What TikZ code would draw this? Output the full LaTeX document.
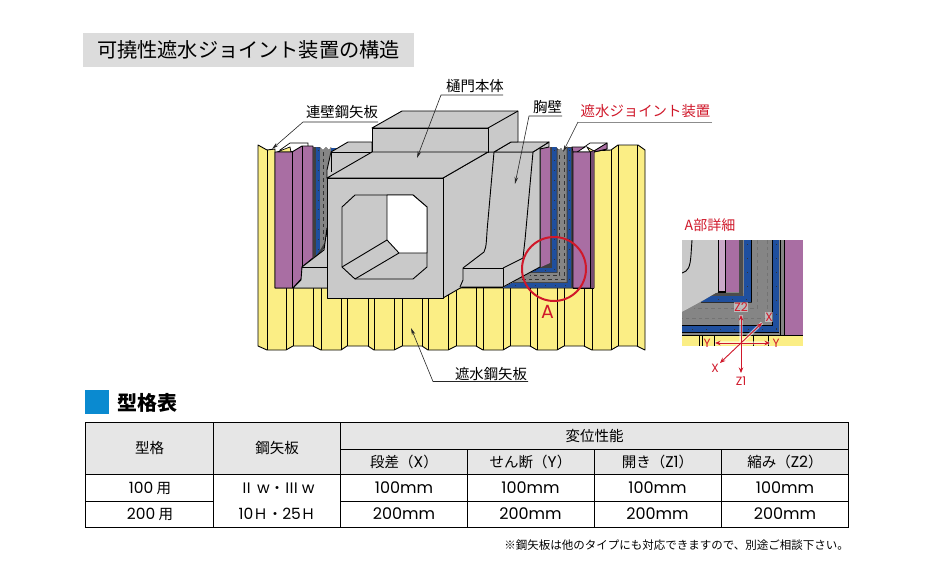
\documentclass[tikz,border=0pt]{standalone}
\usepackage{fontspec}
\setmainfont{Noto Sans CJK JP}
\newfontfamily\lat{Poppins}
\usetikzlibrary{arrows.meta}
\definecolor{yel}{HTML}{FBEE85}
\definecolor{pur}{HTML}{A96EA3}
\definecolor{blu}{HTML}{1F4F9E}
\definecolor{lgr}{HTML}{C9C9C9}
\definecolor{mgr}{HTML}{858585}
\definecolor{dgr}{HTML}{404040}
\definecolor{redc}{HTML}{D0182A}
\definecolor{hdr}{HTML}{E6E6E6}
\definecolor{ttl}{HTML}{DCDCDC}
\definecolor{sq}{HTML}{0A8AD0}
\tikzset{
 ol/.style={draw=black,line width=0.9pt,line join=round},
 thin ol/.style={draw=black,line width=0.7pt},
 leader/.style={draw=black!85,line width=0.6pt,-{Stealth[length=7pt,width=3.5pt]}},
 txt/.style={inner sep=0pt,font=\fontsize{14.4}{16}\selectfont},
 rtxt/.style={txt,text=redc},
 cell/.style={inner sep=0pt,font=\fontsize{14.5}{16}\selectfont},
 num/.style={inner sep=0pt,font=\lat\fontsize{16}{17}\selectfont},
 grid/.style={draw=black,line width=1pt},
 dots/.style={draw=black!80,line width=0.9pt,dash pattern=on 0.9pt off 9pt},
 ddash/.style={draw=black!80,line width=0.5pt,dash pattern=on 3.5pt off 3pt},
 halo/.style={draw=white,opacity=0.6,line width=3.2pt},
 redarr/.style={draw=redc,line width=0.9pt,-{Stealth[length=5.5pt,width=4.5pt]}},
 rlab/.style={inner sep=0.5pt,text=redc,fill=white,fill opacity=0.45,text opacity=1,font=\lat\fontsize{12}{13}\selectfont},
}
\newcommand{\larger}[1]{{\lat\fontsize{15.5}{16}\selectfont #1}}
\begin{document}
\begin{tikzpicture}[x=1pt,y=-1pt]
\useasboundingbox (0,0) rectangle (930,587);
\fill[white] (0,0) rectangle (930,587);
% title
\fill[ttl] (83,33) rectangle (414,67);
\node[inner sep=0pt,font=\fontsize{20.2}{22}\selectfont] (title) at (248.5,50) {可撓性遮水ジョイント装置の構造};
% ---------- yellow sheets
\path[fill=yel,ol] (258,145)--(267,150)--(275,149)--(275,288)--(592,288)--(592,151)--(611,150)--(618,145)--(638,145)--(645,150)--(645,350)
 --(637,346)--(618,346)--(611,350)--(592,350)--(584,346)--(564,346)--(557,350)--(537,350)--(530,346)--(510,346)--(503,350)--(483,350)--(476,346)--(456,346)--(448,350)--(428,350)--(422,346)--(402,346)--(394,350)--(374,350)--(368,346)--(347,346)--(341,350)--(321,350)--(313,346)--(293,346)--(286,350)--(267,350)--(258,346)--cycle;
\foreach \x in {286,321,341,374,394,428,448,483,503,537,557,592}{\draw[thin ol] (\x,288)--(\x,350);}
\foreach \x in {293,313,347,368,402,422,456,476,510,530,564,584}{\draw[thin ol] (\x,288)--(\x,346);}
\draw[thin ol] (267,150)--(267,350);
\draw[thin ol] (611,150)--(611,350) (618,145)--(618,346) (637,145)--(637,346);
% ---------- left purple
\path[fill=white,thin ol] (280,150)--(290,143)--(308,143)--(308,147)--(296,152)--cycle;
\path[fill=yel,thin ol] (277,152)--(290,147)--(291,152)--cycle;
\path[fill=pur,ol] (275,152)--(292,152)--(302,146)--(313,146)--(313,258)--(302,267)--(302,278)--(293,288)--(275,288)--cycle;
\draw[thin ol] (292,152)--(292,288) (302,146)--(302,267);
% left gap
\fill[dgr] (313,147)--(320,147)--(323,150)--(326,147)--(329,150)--(331,147)--(331,240)--(318,256)--(313,258)--cycle;
\fill[blu] (316,147)--(320,148)--(320,250)--(316,256)--cycle;
\fill[mgr] (320,148)--(323,150)--(326,147)--(329,150)--(331,147)--(331,220)--(326,240)--(320,250)--cycle;
\fill[blu] (331,148)--(337,148)--(331,152)--cycle;
\draw[ddash] (323,152)--(323,240);
\draw[dots] (318,150)--(318,250);
\path[fill=lgr,ol] (327,228)--(324,250)--(302,267)--(301,280)--(293,288)--(330,288)--cycle;
\draw[thin ol] (302,267)--(330,267);
% ---------- right gap
\fill[dgr] (540,147)--(556,147)--(559,150)--(561,148)--(563,151)--(566,148)--(568,147)--(594,147)--(594,288)--(503,288)--(540,267)--cycle;
\fill[pur] (541,147)--(550,147)--(550,263)--(541,267)--cycle;
\fill[blu] (552,147)--(556.5,147)--(556.5,272)--(528,272)--(537,268)--(552,268)--cycle;
\fill[mgr] (557.5,150)--(559,150)--(561,148)--(563,151)--(566,148)--(566.5,148)--(566.5,282)--(513,282)--(528,273)--(557.5,273)--cycle;
\fill[blu] (567.5,148)--(571,148)--(571,287.5)--(503,287.5)--(512,283)--(567.5,283)--cycle;
\draw[ddash] (559.5,155)--(559.5,275.5)--(530,275.5) (564,155)--(564,279)--(522,279);
\draw[dots] (554.3,150)--(554.3,270)--(535,270);
\draw[dots] (569.3,150)--(569.3,285)--(510,285);
% right purple
\path[fill=white,thin ol] (577,152)--(590,143)--(607,143)--(607,149)--(594,152)--cycle;
\path[fill=pur,thin ol] (572,147)--(585,147)--(577,152)--(573,152)--cycle;
\path[fill=yel,thin ol] (587,147)--(594,151)--(590,152)--cycle;
\path[fill=pur,ol] (573,152)--(590,152)--(594,151)--(607,143)--(607,149)--(594,152)--(594,288)--(573,288)--cycle;
\fill[pur!70!black] (590,152)--(594,151)--(594,288)--(590,288)--cycle;
\draw[thin ol] (590,152)--(590,288);
\draw[ol] (573,288)--(594,288);
% ---------- concrete
\path[fill=lgr,ol] (331,152)--(348,142)--(372,142)--(372,152)--(345,178)--(327,178)--(327,170)--cycle;
\path[fill=lgr,draw=none] (331,152)--(372,152)--(330,178)--cycle;
\draw[ol] (331,152)--(372,152);
\draw[ol] (331,152)--(331,172);
\path[fill=lgr,ol] (443,178)--(488,152)--(533,152)--(549,142)--(549,147)--(540,149)--(540,267)--(503,287)--(462,287)--(443,298)--cycle;
\path[fill=lgr,ol] (494,152)--(511,142)--(549,142)--(533,152)--cycle;
\draw[ol] (494,152)--(488,220) .. controls (486,240) and (487,246) .. (484,252)--(463,268);
\draw[ol] (533,152)--(525,240)--(523,258)--(503,268);
\draw[ol] (463,268)--(503,268)--(503,287);
\draw[ol] (463,268)--(463,280)--(460,287);
\draw[ol] (462,287)--(503,287);
\path[fill=lgr,ol] (372,128)--(402,111)--(518,111)--(518,142)--(511,142)--(494,152)--(488,152)--(488,128)--cycle;
\path[fill=lgr,ol] (372,128)--(488,128)--(488,152)--(372,152)--cycle;
\draw[ol] (488,128)--(518,111);
\path[fill=lgr,ol] (327,178)--(372,152)--(488,152)--(443,178)--cycle;
\path[fill=lgr,ol] (327,178)--(443,178)--(443,298)--(327,298)--cycle;
% opening
\path[fill=lgr,ol] (342,207)--(355,195)--(413,195)--(427,207)--(427,267)--(413,279)--(355,279)--(342,267)--cycle;
\path[fill=white,ol] (387,195)--(413,195)--(427,207)--(427,253)--(399,253)--(387,240)--cycle;
\draw[ol] (387,240)--(342,267) (399,253)--(355,279);
% red circle
\draw[redc,line width=2pt] (554,269) circle (32);
\node[inner sep=0pt,text=redc,font=\lat\fontsize{19}{20}\selectfont] (Alab) at (547.5,312) {A};
% ---------- labels
\node[txt] (L1) at (342,112) {連壁鋼矢板};
\coordinate (L1a) at (378,122); \coordinate (L1b) at (303,122); \coordinate (L1t) at (272,149);
\draw[leader] (L1a)--(L1b)--(L1t);
\node[txt] (L2) at (475,86) {樋門本体};
\coordinate (L2a) at (503,95); \coordinate (L2b) at (441,95); \coordinate (L2t) at (417,158);
\draw[leader] (L2a)--(L2b)--(L2t);
\node[txt] (L3) at (547.5,107) {胸壁};
\coordinate (L3a) at (562,116); \coordinate (L3b) at (529,116); \coordinate (L3t) at (515,184);
\draw[leader] (L3a)--(L3b)--(L3t);
\node[rtxt] (L4) at (645.5,111) {遮水ジョイント装置};
\coordinate (L4a) at (712,122); \coordinate (L4b) at (578,122); \coordinate (L4t) at (563,152);
\draw[draw=black!45,line width=0.7pt] (L4a)--(L4b);
\draw[leader] (L4b)--(L4t);
\node[txt] (L5) at (491,374) {遮水鋼矢板};
\coordinate (L5a) at (528,381.5); \coordinate (L5b) at (433,381.5); \coordinate (L5t) at (411,328);
\draw[leader] (L5a)--(L5b)--(L5t);
% ---------- detail panel
\node[rtxt,font=\fontsize{14}{16}\selectfont] (Adet) at (710,225) {A部詳細};
\begin{scope}
\clip (682,240) rectangle (803,346);
\fill[mgr] (682,240) rectangle (803,336);
\fill[lgr] (682,240)--(718,240)--(718,292)--(682,312)--cycle;
\draw[ol] (692,240)--(691,255) .. controls (690,268) and (688,271) .. (682,273);
\fill[pur!60!white] (718,240) rectangle (725,292);
\fill[black] (717.5,240) rectangle (719,292);
\fill[pur] (725,240) rectangle (739,292);
\fill[black] (724.5,240) rectangle (726,292.5);
\fill[black] (717.5,291) rectangle (726,293);
\fill[black!70] (739,240) rectangle (743,296);
\fill[black!70] (716,293)--(743,293)--(743,296)--(711,296)--cycle;
\fill[blu] (744,240) rectangle (751,302);
\fill[blu] (711,296)--(751,296)--(751,302)--(701,302)--cycle;
\draw[black,line width=0.6pt] (751,240)--(751,302)--(701,302);
\fill[mgr] (751.5,240) rectangle (772,324);
\fill[mgr] (682,312)--(701,302.5)--(772,302.5)--(772,324)--(682,324)--cycle;
\draw[ddash,draw=black!55,line width=0.6pt] (757,240)--(757,308)--(694,308) (767,240)--(767,318)--(682,318);
\fill[black] (682,324.5) rectangle (773,326);
\fill[black] (772,240) rectangle (773,326);
\fill[blu] (773,240) rectangle (779,332);
\fill[blu] (682,326) rectangle (779,332);
\draw[black,line width=0.8pt] (682,332.5)--(779,332.5)--(779,240);
\fill[mgr] (779,240) rectangle (785,335);
\draw[black,line width=0.7pt] (780.5,240)--(780.5,335) (784.5,240)--(784.5,335);
\fill[pur] (785,240) rectangle (803,335);
\draw[dots,line width=1pt,dash pattern=on 1pt off 13pt] (776,244)--(776,329)--(685,329);
\draw[dots,line width=1pt,dash pattern=on 1pt off 13pt] (747.5,244)--(747.5,299)--(708,299);
\fill[yel] (682,336) rectangle (803,346);
\draw[black,line width=0.9pt] (682,335.5)--(803,335.5);
\foreach \x in {699,702,714,753,768}{\draw[black,line width=0.8pt] (\x,336)--(\x,346);}
\end{scope}
% arrows
\coordinate (Oc) at (741,344);
\coordinate (Zu) at (741,315); \coordinate (Zd) at (741,373);
\coordinate (Yl) at (715,343); \coordinate (Yr) at (770,343);
\coordinate (Xu) at (762,323); \coordinate (Xd) at (720,363);
\draw[halo] (Zu)--(Zd) (Yl)--(Yr) (Xu)--(Xd);
\draw[redarr] (Oc)--(Zu);
\draw[redarr] (Oc)--(Zd);
\draw[redarr,{Stealth[length=5.5pt,width=4.5pt]}-{Stealth[length=5.5pt,width=4.5pt]}] (Yl)--(Yr);
\draw[redarr,{Stealth[length=5.5pt,width=4.5pt]}-{Stealth[length=5.5pt,width=4.5pt]}] (Xu)--(Xd);
\node[rlab] (lZ2) at (741,307) {Z2};
\node[rlab] (lX1) at (769,317) {X};
\node[rlab,fill=none] (lY1) at (707,343) {Y};
\node[rlab,fill=none] (lY2) at (776,343) {Y};
\node[rlab,fill=none] (lX2) at (715,368) {X};
\node[rlab,fill=none] (lZ1) at (741,381) {Z1};
% ---------- table
\fill[sq] (85,390) rectangle (109,414);
\node[inner sep=0pt,font=\fontsize{20}{22}\bfseries\selectfont] (tabT) at (147,402.5) {型格表};
\fill[hdr] (85,422) rectangle (848.5,474.5);
\draw[grid] (85,422) rectangle (848.5,527.5);
\draw[grid] (85,474.5)--(848.5,474.5);
\draw[grid] (340.5,449.5)--(848.5,449.5);
\draw[grid] (85,501)--(213.5,501) (340.5,501)--(848.5,501);
\draw[grid] (213.5,422)--(213.5,527.5) (340.5,422)--(340.5,527.5);
\draw[grid] (467,449.5)--(467,527.5) (594,449.5)--(594,527.5) (721,449.5)--(721,527.5);
\node[cell] (h1) at (149.5,448) {型格};
\node[cell] (h2) at (277,448) {鋼矢板};
\node[cell] (h3) at (594.5,436) {変位性能};
\node[cell] (h4) at (404,462) {段差（\larger{X}）};
\node[cell] (h5) at (530.5,462) {せん断（\larger{Y}）};
\node[cell] (h6) at (657.5,462) {開き（\larger{Z1}）};
\node[cell] (h7) at (785,462) {縮み（\larger{Z2}）};
\node[cell] (r1) at (150,488) {\larger{100} 用};
\node[cell] (r2) at (150,514) {\larger{200} 用};
\node[cell] (s1) at (277,488) {Ⅱ \larger{w}・Ⅲ \larger{w}};
\node[cell] (s2) at (277,514) {\larger{10}Ｈ・\larger{25}Ｈ};
\foreach \n/\x in {a/404,b/530.5,c/657.5,d/785}{
 \node[num] (v1\n) at (\x,488) {100mm};
 \node[num] (v2\n) at (\x,514) {200mm};
}
\node[inner sep=0pt,anchor=east,font=\fontsize{11.5}{13}\selectfont] (note) at (849,545) {※鋼矢板は他のタイプにも対応できますので、別途ご相談下さい。};
\end{tikzpicture}
\end{document}
